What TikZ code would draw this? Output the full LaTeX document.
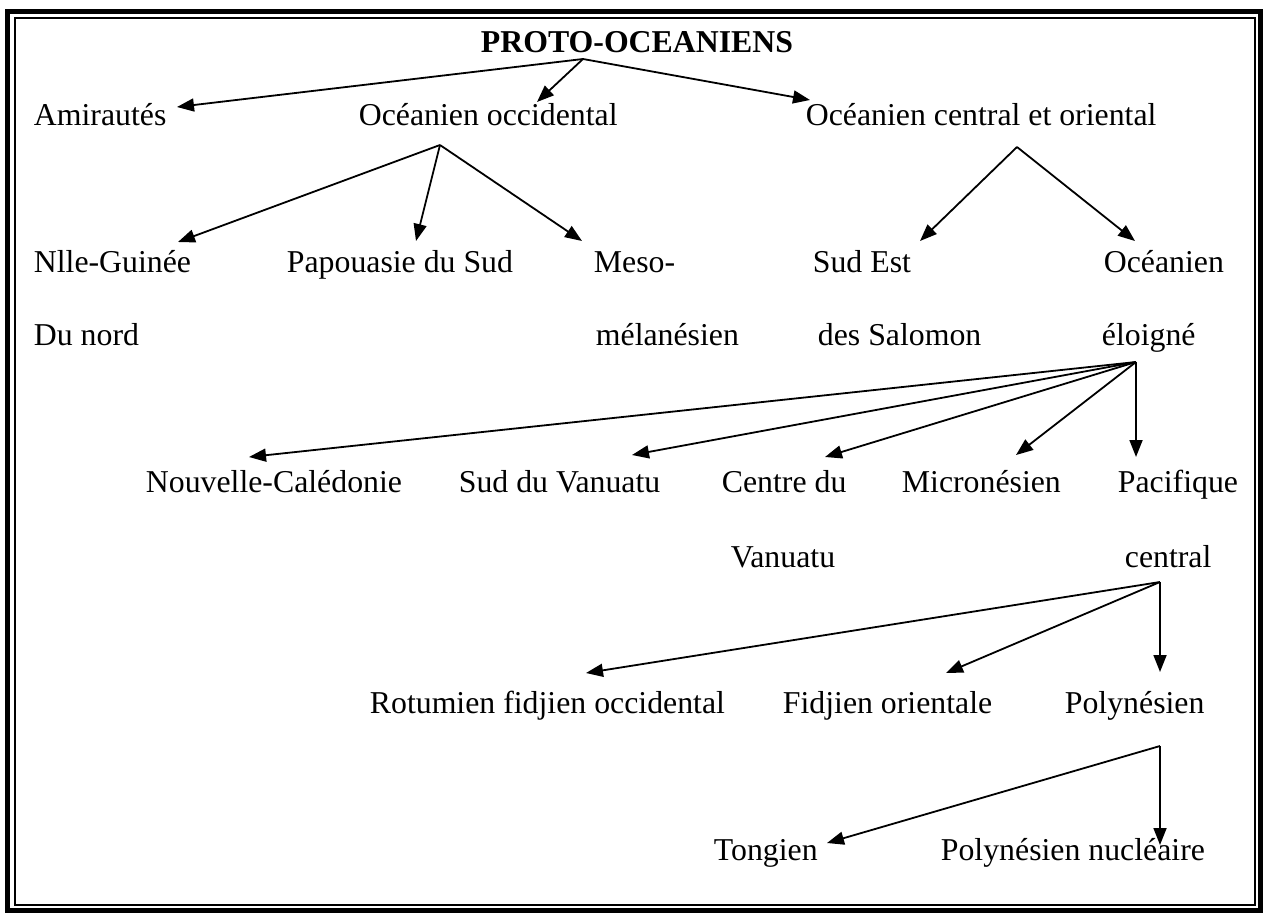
\documentclass[tikz,border=0pt]{standalone}
\usepackage{fontspec}
\setmainfont{Liberation Serif}
\usetikzlibrary{arrows.meta}
\tikzset{lang/.style={anchor=base west,inner sep=0pt,font=\fontsize{31.8}{38}\selectfont}}

\begin{document}
\begin{tikzpicture}[x=1pt,y=-1pt,>={Triangle[length=17pt,width=13pt]},line width=1.8pt]
\useasboundingbox (0,0) rectangle (1263,913);
\draw[line width=5pt] (7.5,11) rectangle (1260.5,910);
\draw (15,18) rectangle (1255,905);

% niveau 0 et 1
\node[lang,font=\fontsize{31.8}{38}\selectfont\bfseries] (proto) at (480,52) {PROTO-OCEANIENS};
\node[lang] (amir) at (33,125) {Amirautés};
\node[lang] (occ) at (358,125) {Océanien occidental};
\node[lang] (cen) at (805,125) {Océanien central et oriental};
\coordinate (proto-b) at (583,59);
\coordinate (amir-t) at (177,107);
\coordinate (occ-t) at (537,102);
\coordinate (cen-t) at (810,100);
\draw[->] (proto-b) -- (amir-t);
\draw[->] (proto-b) -- (occ-t);
\draw[->] (proto-b) -- (cen-t);

% niveau 2
\node[lang] (ng) at (33,272) {Nlle-Guinée};
\node[lang] (ng2) at (33,345) {Du nord};
\node[lang] (pap) at (286,272) {Papouasie du Sud};
\node[lang] (meso) at (593,272) {Meso-};
\node[lang] (meso2) at (595,345) {mélanésien};
\node[lang] (sal) at (812,272) {Sud Est};
\node[lang] (sal2) at (817,345) {des Salomon};
\node[lang] (eloi) at (1103,272) {Océanien};
\node[lang] (eloi2) at (1101,345) {éloigné};
\coordinate (occ-b) at (440,145);
\coordinate (cen-b) at (1017,147);
\coordinate (ng-t) at (178,242);
\coordinate (pap-t) at (416,241);
\coordinate (meso-t) at (582,241);
\coordinate (sal-t) at (920,241);
\coordinate (eloi-t) at (1135,241);
\draw[->] (occ-b) -- (ng-t);
\draw[->] (occ-b) -- (pap-t);
\draw[->] (occ-b) -- (meso-t);
\draw[->] (cen-b) -- (sal-t);
\draw[->] (cen-b) -- (eloi-t);

% niveau 3
\node[lang] (nc) at (145,492) {Nouvelle-Calédonie};
\node[lang] (svan) at (458,492) {Sud du Vanuatu};
\node[lang] (cvan) at (721,492) {Centre du};
\node[lang] (cvan2) at (730,567) {Vanuatu};
\node[lang] (micro) at (901,492) {Micronésien};
\node[lang] (paci) at (1117,492) {Pacifique};
\node[lang] (paci2) at (1124,567) {central};
\coordinate (eloi-b) at (1136,362);
\coordinate (nc-t) at (249,457);
\coordinate (svan-t) at (632,455);
\coordinate (cvan-t) at (825,457);
\coordinate (micro-t) at (1016,455);
\coordinate (paci-t) at (1136,457);
\draw[->] (eloi-b) -- (nc-t);
\draw[->] (eloi-b) -- (svan-t);
\draw[->] (eloi-b) -- (cvan-t);
\draw[->] (eloi-b) -- (micro-t);
\draw[->] (eloi-b) -- (paci-t);

% niveau 4 et 5
\node[lang] (rot) at (369,713) {Rotumien fidjien occidental};
\node[lang] (fid) at (782,713) {Fidjien orientale};
\node[lang] (poly) at (1064,713) {Polynésien};
\node[lang] (ton) at (713,860) {Tongien};
\node[lang] (nuc) at (940,860) {Polynésien nucléaire};
\coordinate (paci-b) at (1160,582);
\coordinate (poly-b) at (1160,746);
\coordinate (rot-t) at (586,673);
\coordinate (fid-t) at (946,673);
\coordinate (poly-t) at (1160,672);
\coordinate (ton-t) at (827,843);
\coordinate (nuc-t) at (1160,845);
\draw[->] (paci-b) -- (rot-t);
\draw[->] (paci-b) -- (fid-t);
\draw[->] (paci-b) -- (poly-t);
\draw[->] (poly-b) -- (ton-t);
\draw[->] (poly-b) -- (nuc-t);
\end{tikzpicture}
\end{document}
